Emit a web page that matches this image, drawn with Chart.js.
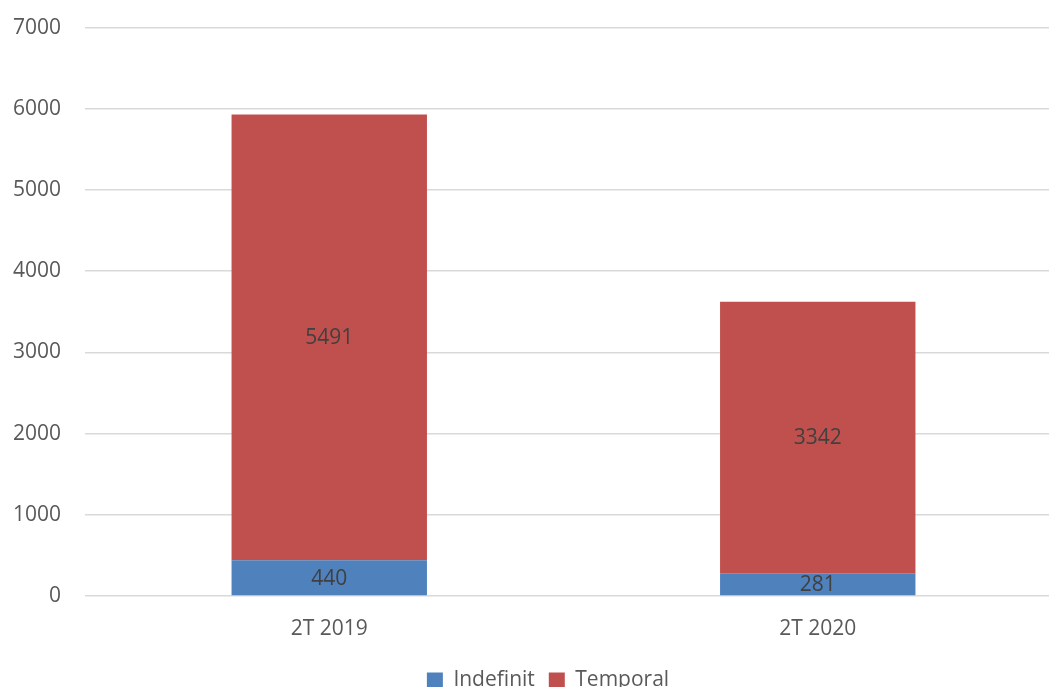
<!DOCTYPE html>
<html>
<head>
<meta charset="utf-8">
<script src="https://cdn.jsdelivr.net/npm/chart.js@4.4.0/dist/chart.umd.min.js"></script>
<style>
  html, body { margin: 0; padding: 0; background: #fff; overflow: hidden; }
  .wrap { width: 1049px; height: 687px; overflow: hidden; }
  .box { width: 1062px; height: 710px; margin-top: -9px; position: relative; }
</style>
</head>
<body>
<div class="wrap"><div class="box"><canvas id="chart"></canvas></div></div>
<script>
const categories = ['2T 2019', '2T 2020'];
const indefinit  = [440, 281];
const temporal   = [5491, 3342];
const yTicks     = [0, 1000, 2000, 3000, 4000, 5000, 6000, 7000];

const FONT = '"Open Sans", sans-serif';

// draws the value in the middle of each bar segment
const barLabels = {
  id: 'barLabels',
  afterDatasetsDraw(chart) {
    const ctx = chart.ctx;
    ctx.save();
    ctx.font = '21px ' + FONT;
    ctx.fillStyle = '#404040';
    ctx.textAlign = 'center';
    ctx.textBaseline = 'middle';
    chart.data.datasets.forEach((ds, i) => {
      chart.getDatasetMeta(i).data.forEach((bar, j) => {
        const mid = (bar.y + bar.base) / 2;
        ctx.fillText(ds.data[j], bar.x, mid + 1);
      });
    });
    ctx.restore();
  }
};

// nudge the legend to sit under the visible plot
const legendShift = {
  id: 'legendShift',
  afterLayout(chart) {
    chart.legend.left += 17;
    chart.legend.right += 17;
  }
};

new Chart(document.getElementById('chart'), {
  type: 'bar',
  data: {
    labels: categories,
    datasets: [
      { label: 'Indefinit', data: indefinit, backgroundColor: '#4f81bd' },
      { label: 'Temporal',  data: temporal,  backgroundColor: '#c0504d' },
    ]
  },
  options: {
    responsive: true,
    maintainAspectRatio: false,
    animation: false,
    layout: { padding: { top: 6, right: 0, left: 0, bottom: 0 } },
    plugins: {
      tooltip: { enabled: false },
      legend: {
        position: 'bottom',
        labels: {
          font: { family: FONT, size: 21 },
          color: '#595959',
          boxWidth: 16,
          boxHeight: 16,
          padding: 14,
        }
      }
    },
    datasets: { bar: { categoryPercentage: 1, barPercentage: 0.4 } },
    scales: {
      x: {
        stacked: true,
        grid: { display: false },
        border: { display: false },
        ticks: { font: { family: FONT, size: 21 }, color: '#595959', padding: 12 },
        afterFit: s => { s.height = 60; }
      },
      y: {
        stacked: true,
        min: 0, max: 7000,
        afterBuildTicks: s => { s.ticks = yTicks.map(v => ({ value: v })); },
        grid: { color: '#d9d9d9', lineWidth: 1.5, drawTicks: false },
        border: { display: false },
        ticks: { font: { family: FONT, size: 21 }, color: '#595959', padding: 24, callback: v => String(v) },
        afterFit: s => { s.width = 85; }
      }
    }
  },
  plugins: [barLabels, legendShift]
});
</script>
</body>
</html>
